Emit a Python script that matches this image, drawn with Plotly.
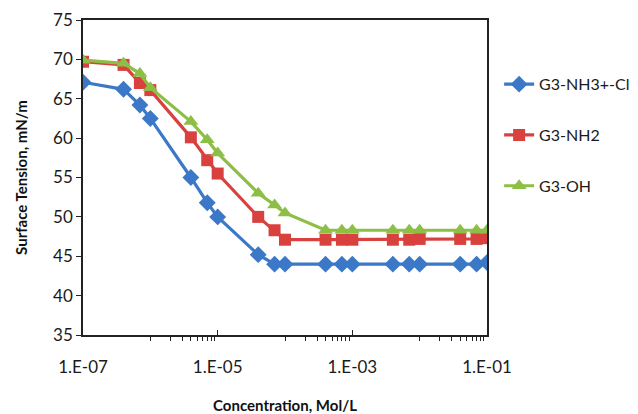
import plotly.graph_objects as go

conc = [1e-7, 4e-7, 7e-7, 1e-6, 4e-6, 7e-6, 1e-5, 4e-5, 7e-5, 1e-4,
        4e-4, 7e-4, 1e-3, 4e-3, 7e-3, 1e-2, 4e-2, 7e-2, 1e-1]
g3_nh3cl = [67.1, 66.2, 64.2, 62.5, 55.0, 51.8, 50.0, 45.2, 44.0, 44.0,
            44.0, 44.0, 44.0, 44.0, 44.0, 44.0, 44.0, 44.0, 44.2]
g3_nh2 = [69.7, 69.3, 67.0, 66.1, 60.1, 57.2, 55.5, 50.0, 48.3, 47.1,
          47.1, 47.1, 47.1, 47.1, 47.1, 47.2, 47.2, 47.2, 47.3]
g3_oh = [69.9, 69.5, 68.2, 66.4, 62.1, 59.8, 58.1, 53.0, 51.5, 50.5,
         48.3, 48.3, 48.3, 48.3, 48.3, 48.3, 48.3, 48.3, 48.3]

series = [
    ("G3-NH3+-Cl", g3_nh3cl, "#3C78C8", "diamond", 13),
    ("G3-NH2", g3_nh2, "#D9413F", "square", 12),
    ("G3-OH", g3_oh, "#8DBE45", "triangle-up", 13),
]

x_major = [1e-7, 1e-5, 1e-3, 1e-1]
x_labels = ["1.E-07", "1.E-05", "1.E-03", "1.E-01"]
minor_vals = [k * d for d in (1e-6, 1e-4, 1e-2) for k in range(1, 10)]

fig = go.Figure()
for i, (name, vals, color, sym, sz) in enumerate(series):
    fig.add_trace(go.Scatter(
        x=conc, y=vals, name=name, mode="lines+markers",
        legendgroup=f"g{i}",
        line=dict(color=color, width=3.2),
        marker=dict(symbol=sym, size=sz, color=color),
    ))

font = "Lato, 'Open Sans', sans-serif"
fig.update_layout(
    width=638, height=414,
    margin=dict(l=83, r=151, t=20, b=79, autoexpand=False),
    paper_bgcolor="white", plot_bgcolor="white",
    font=dict(family=font, size=16, color="#1a1a1a"),
    legend=dict(x=1.03, y=0.85, xanchor="left", yanchor="top",
                tracegroupgap=27, font=dict(size=16, color="#1a1a1a"),
                itemwidth=30),
    xaxis=dict(
        type="log", range=[-7, -1], automargin=False,
        tickmode="array", tickvals=x_major, ticktext=x_labels,
        ticks="inside", ticklen=5, tickcolor="#222",
        ticklabelstandoff=16,
        showline=True, linecolor="#222", linewidth=1.5, mirror=True,
        showgrid=False, zeroline=False,
        tickfont=dict(size=17, color="#1a1a1a"),
        minor=dict(tickmode="array", tickvals=minor_vals, ticks="outside",
                   ticklen=4, tickcolor="#222", showgrid=False),
        title=dict(text="<b>Concentration, Mol/L</b>", font=dict(size=15, color="#111"), standoff=34),
    ),
    yaxis=dict(
        range=[35, 75], dtick=5, tick0=35, automargin=False,
        ticks="outside", ticklen=5, tickcolor="#222",
        showline=True, linecolor="#222", linewidth=1.5, mirror=True,
        showgrid=False, zeroline=False,
        tickfont=dict(size=17, color="#1a1a1a"),
        title=dict(text="<b>Surface Tension, mN/m</b>", font=dict(size=15, color="#111"), standoff=22),
    ),
)

fig.write_html("out.html")
